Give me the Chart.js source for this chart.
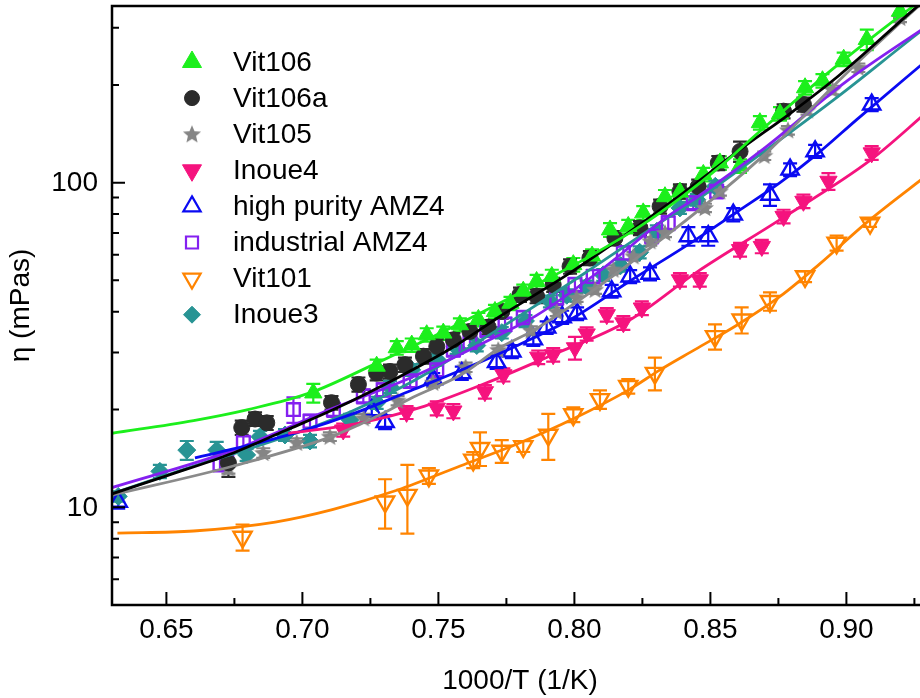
<!DOCTYPE html>
<html>
<head>
<meta charset="utf-8">
<script src="https://cdn.jsdelivr.net/npm/chart.js@4.4.1/dist/chart.umd.min.js"></script>
<style>
  html, body { margin: 0; padding: 0; background: #fff; overflow: hidden; }
  #wrap { width: 920px; height: 698px; overflow: hidden; }
</style>
</head>
<body>
<div id="wrap"><canvas id="viscosity" width="932" height="698"></canvas></div>
<script>
// ============================================================
// DATA
// ============================================================
const seriesLabels = ["Vit106", "Vit106a", "Vit105", "Inoue4", "high purity AMZ4", "industrial AMZ4", "Vit101", "Inoue3"];

// Vit106
const vit106X   = [0.704, 0.7273, 0.7347, 0.7402, 0.7457, 0.7518, 0.7579, 0.7647, 0.7708, 0.7765, 0.7812, 0.7861, 0.7917, 0.7996, 0.8065, 0.8131, 0.8198, 0.8253, 0.8333, 0.8388, 0.8474, 0.8535, 0.8609, 0.8682, 0.8756, 0.8848, 0.8912, 0.8990, 0.9075, 0.9197];
const vit106Y   = [22.5, 27.2, 31.0, 31.6, 34.0, 34.4, 36.5, 37.9, 40.1, 42.5, 46.3, 49.6, 51.4, 55.9, 59.4, 71.5, 73.3, 80.7, 90.5, 93.5, 106, 115, 112.5, 153, 163, 196, 206, 240, 276, 337];
const vit106Err = [1.5, 1.3, 1.5, 1.5, 1.6, 1.6, 1.7, 1.8, 1.9, 2.0, 2.2, 2.4, 2.5, 2.7, 2.9, 3.5, 3.5, 3.9, 4.4, 4.5, 5.1, 5.5, 5.4, 7.3, 7.8, 9.4, 9.9, 11.5, 20, 16];
const vit106FitX = [0.63, 0.66, 0.68, 0.7028, 0.7273, 0.7469, 0.7653, 0.7837, 0.802, 0.8241, 0.84, 0.8535, 0.8682, 0.8829, 0.895, 0.9075, 0.9245, 0.93];
const vit106FitY = [16.9, 18.5, 20.0, 22.5, 27.8, 33.2, 39.6, 47.5, 57.0, 73.3, 91, 112, 144, 184, 224, 272, 349, 376];

// Vit106a
const vit106aX   = [0.6728, 0.6777, 0.6826, 0.6869, 0.7107, 0.7206, 0.7273, 0.7322, 0.7377, 0.7445, 0.7494, 0.7555, 0.7616, 0.7683, 0.7733, 0.78, 0.7861, 0.7922, 0.7984, 0.8057, 0.8149, 0.8241, 0.8315, 0.8388, 0.8455, 0.8529, 0.8609, 0.8769, 0.8842];
const vit106aY   = [13.7, 17.6, 18.7, 18.2, 21.0, 23.9, 25.9, 26.2, 27.5, 29.2, 31.3, 32.8, 34.8, 35.9, 40.1, 45.2, 44.7, 48.5, 55.2, 58.6, 67.5, 72.5, 84.5, 94, 97.2, 115, 124.8, 166, 174];
const vit106aErr = [1.3, 0.9, 0.9, 0.9, 1.0, 1.2, 1.3, 1.3, 1.4, 1.5, 1.6, 1.6, 1.7, 1.8, 2.0, 2.3, 2.2, 2.4, 2.8, 2.9, 3.4, 3.6, 4.2, 4.7, 4.9, 5.8, 9, 8.3, 8.7];
const vit106aFitX = [0.63, 0.65, 0.6746, 0.6935, 0.7114, 0.7359, 0.755, 0.7726, 0.7984, 0.8351, 0.8609, 0.88, 0.8976, 0.9245, 0.93];
const vit106aFitY = [11.0, 12.5, 14.7, 17.2, 20.0, 25.3, 31, 38.7, 52.7, 86.6, 126.4, 165, 215, 340, 372];

// Vit105
const vit105X   = [0.6728, 0.6856, 0.6979, 0.7101, 0.7225, 0.7350, 0.7480, 0.7600, 0.7720, 0.7840, 0.7935, 0.8008, 0.8076, 0.8143, 0.8217, 0.8279, 0.8333, 0.8480, 0.8535, 0.8698, 0.8785, 0.8857, 0.8949, 0.9044, 0.9197];
const vit105Y   = [13.2, 14.7, 15.8, 16.5, 18.8, 21.3, 24.2, 27.0, 30.5, 35.0, 40.0, 44.2, 46.8, 54.0, 59.3, 66.0, 70.0, 83.6, 94.0, 121, 145, 167, 193, 226, 322];
const vit105Err = [0.5, 0.5, 0.5, 0.5, 0.6, 0.7, 0.8, 0.9, 1.0, 1.1, 1.2, 1.3, 1.4, 1.6, 1.8, 2.0, 2.1, 2.5, 2.8, 3.6, 4.4, 5.0, 5.8, 6.8, 9.7];
const vit105FitX = [0.63, 0.6746, 0.7114, 0.7298, 0.7396, 0.758, 0.7726, 0.7861, 0.8351, 0.8719, 0.8976, 0.9258, 0.93];
const vit105FitY = [10.9, 13.4, 16.6, 19.5, 21.6, 25.5, 31.0, 35.5, 70, 126.4, 207.6, 345, 370];

// Inoue4
const inoue4X   = [0.715, 0.7383, 0.7494, 0.7555, 0.7671, 0.7739, 0.7867, 0.7922, 0.8002, 0.8045, 0.8119, 0.8180, 0.8248, 0.8388, 0.8461, 0.8609, 0.8689, 0.8769, 0.8842, 0.8934, 0.9093];
const inoue4Y   = [17.3, 19.6, 20.2, 19.8, 22.7, 25.6, 29.0, 29.5, 31.0, 34.2, 39.2, 37.0, 41.1, 50.2, 50.2, 62.2, 63.6, 78.7, 87.6, 101, 123.5];
const inoue4Err = [0.8, 0.9, 1.0, 1.0, 1.1, 1.2, 1.4, 1.4, 2.5, 1.6, 1.9, 1.8, 2.0, 2.4, 2.4, 3, 3, 3.8, 4.2, 6, 6];
const inoue4FitX = [0.6948, 0.72, 0.745, 0.77, 0.79, 0.82, 0.845, 0.8756, 0.9087, 0.93];
const inoue4FitY = [16.9, 18.1, 20.5, 24.6, 29.0, 37.6, 53, 76.9, 117, 166];

// high purity AMZ4
const amz4hpX   = [0.6323, 0.7255, 0.7304, 0.7481, 0.7586, 0.7714, 0.777, 0.7849, 0.7898, 0.7955, 0.8010, 0.8137, 0.8205, 0.8278, 0.8419, 0.8492, 0.8584, 0.8719, 0.8793, 0.8885, 0.9093];
const amz4hpY   = [10.4, 19.9, 18.3, 24.8, 25.9, 28.0, 30.2, 32.9, 35.8, 38.5, 39.5, 46.3, 51.4, 52.4, 68.4, 68.4, 79.7, 91.8, 109.7, 124.9, 174];
const amz4hpErr = [0.5, 0.9, 0.9, 1.1, 1.2, 1.3, 1.4, 1.5, 1.6, 1.8, 1.8, 2.1, 2.4, 2.4, 4.5, 4.5, 3.7, 7, 5, 5.8, 8];
const amz4hpFitX = [0.6605, 0.68, 0.70, 0.72, 0.74, 0.76, 0.78, 0.80, 0.82, 0.8425, 0.86, 0.8756, 0.89, 0.9038, 0.93];
const amz4hpFitY = [14.2, 15.5, 17.2, 19.6, 22.9, 26.8, 31.8, 38.5, 49.5, 65, 81.5, 100, 124, 156.4, 240];

// industrial AMZ4
const amz4indX   = [0.6697, 0.6722, 0.6783, 0.6967, 0.7028, 0.7114, 0.7224, 0.7297, 0.7396, 0.7494, 0.7555, 0.7616, 0.7678, 0.7745, 0.7812, 0.7935, 0.8002, 0.8069, 0.8180, 0.8284, 0.8345, 0.8437, 0.8523];
const amz4indY   = [13.6, 14.0, 15.8, 20.0, 18.4, 20.0, 22.0, 23.0, 24.5, 26.5, 30.6, 32.2, 35.2, 36.6, 38.4, 44.2, 48.5, 51.4, 60.7, 68.4, 75.1, 86.6, 94.0];
const amz4indErr = [0.7, 0.7, 0.8, 1.8, 0.9, 1.0, 1.1, 1.1, 1.2, 1.3, 1.5, 1.6, 1.7, 1.8, 1.9, 2.2, 2.4, 2.5, 3, 3.4, 3.7, 4.3, 4.6];
const amz4indFitX = [0.63, 0.6746, 0.7114, 0.7396, 0.7726, 0.7861, 0.81, 0.8351, 0.8449, 0.87, 0.90, 0.93];
const amz4indFitY = [11.5, 15.0, 20.2, 25.0, 34.0, 39.0, 54, 79.5, 90, 128, 205, 305];

// Vit101
const vit101X   = [0.678, 0.7304, 0.7386, 0.7465, 0.7628, 0.7653, 0.7733, 0.7812, 0.7904, 0.7996, 0.8094, 0.8198, 0.8296, 0.8517, 0.8615, 0.8719, 0.8848, 0.8964, 0.9087];
const vit101Y   = [8.1, 10.4, 10.9, 12.5, 14.0, 15.2, 14.9, 15.4, 16.7, 19.3, 21.5, 23.6, 25.9, 33.6, 37.8, 43.1, 51.4, 65.2, 75.1];
const vit101Err = [0.75, 1.8, 2.6, 0.7, 0.8, 1.8, 1.2, 0.6, 2.7, 1.0, 1.4, 1.2, 3.0, 3.0, 3.5, 2.8, 2.0, 3.5, 2.0];
const vit101FitX = [0.632, 0.66, 0.69, 0.711, 0.735, 0.758, 0.78, 0.80, 0.82, 0.8315, 0.8443, 0.86, 0.8756, 0.89, 0.9087, 0.93];
const vit101FitY = [8.33, 8.45, 9.0, 9.83, 11.3, 13.4, 15.8, 18.8, 23.0, 26.5, 30.6, 36.5, 44.6, 56, 76.9, 106];

// Inoue3
const inoue3X   = [0.6323, 0.6476, 0.6575, 0.6685, 0.6795, 0.6844, 0.6936, 0.7028, 0.7175, 0.7273, 0.7322, 0.7402, 0.7495, 0.7567, 0.7641, 0.7733, 0.782, 0.791, 0.7972, 0.8045, 0.8106, 0.8170, 0.8240, 0.8303, 0.8388, 0.845, 0.8518];
const inoue3Y   = [10.8, 12.9, 15.0, 15.0, 14.5, 16.5, 16.7, 16.0, 18.6, 21.0, 23.5, 26.5, 28.5, 31.0, 31.5, 34.5, 37.5, 43.1, 45.0, 47.9, 52.0, 55.5, 61.0, 70.8, 83.6, 88.6, 97.4];
const inoue3Err = [0.4, 0.6, 1.0, 0.9, 0.6, 0.7, 0.7, 0.7, 0.8, 0.9, 1.0, 1.1, 1.2, 1.3, 1.3, 1.4, 1.6, 1.8, 1.9, 2.0, 2.2, 2.3, 2.6, 3.0, 3.5, 3.7, 4.1];
const inoue3FitX = [0.63, 0.666, 0.6746, 0.7114, 0.7396, 0.7625, 0.7861, 0.81, 0.8351, 0.8437, 0.8707, 0.8976, 0.9263, 0.93];
const inoue3FitY = [11.0, 13.9, 14.6, 18.7, 24.2, 31.5, 42.0, 57, 78.7, 87, 126.4, 186, 288, 304];

// Axis ticks
const xMajorTicks = [0.65, 0.70, 0.75, 0.80, 0.85, 0.90];
const xMinorTicks = [0.675, 0.725, 0.775, 0.825, 0.875, 0.925];
const yMajorTicks = [10, 100];
const yMinorTicks = [5, 6, 7, 8, 9, 20, 30, 40, 50, 60, 70, 80, 90, 200, 300];

// ============================================================
// STYLE
// ============================================================
const FONT = "'Liberation Sans', Arial, Helvetica, sans-serif";
const FONT_SIZE = 28;

/** Filled five-point star drawn on a small canvas, used as a point style */
function makeStar(color, size) {
    const c = document.createElement("canvas");
    c.width = c.height = size;
    const g = c.getContext("2d");
    const R = size / 2 - 0.5, r = R * 0.45, cx = size / 2, cy = size / 2 + 0.5;
    g.fillStyle = color;
    g.beginPath();
    for (let i = 0; i < 10; i++) {
        const rad = (i % 2 ? r : R);
        const a = -Math.PI / 2 + i * Math.PI / 5;
        g.lineTo(cx + rad * Math.cos(a), cy + rad * Math.sin(a));
    }
    g.closePath();
    g.fill();
    return c;
}

const series = [
    { x: vit106X,   y: vit106Y,   err: vit106Err,   fx: vit106FitX,   fy: vit106FitY,   color: "#1cef1c", line: "#1cef1c", style: "triangle", rot: 0,   r: 10,  lr: 11,  hollow: false },
    { x: vit106aX,  y: vit106aY,  err: vit106aErr,  fx: vit106aFitX,  fy: vit106aFitY,  color: "#2b2b2b", line: "#000000", style: "circle",   rot: 0,   r: 8,   lr: 7.5, hollow: false },
    { x: vit105X,   y: vit105Y,   err: vit105Err,   fx: vit105FitX,   fy: vit105FitY,   color: "#858585", line: "#8a8a8a", style: makeStar("#858585", 20), legendStyle: makeStar("#858585", 20), rot: 0, r: 10, lr: 10, hollow: false },
    { x: inoue4X,   y: inoue4Y,   err: inoue4Err,   fx: inoue4FitX,   fy: inoue4FitY,   color: "#f5137e", line: "#f5137e", style: "triangle", rot: 180, r: 10,  lr: 11,  hollow: false },
    { x: amz4hpX,   y: amz4hpY,   err: amz4hpErr,   fx: amz4hpFitX,   fy: amz4hpFitY,   color: "#0a0af2", line: "#0a0af2", style: "triangle", rot: 0,   r: 10,  lr: 10,  hollow: true },
    { x: amz4indX,  y: amz4indY,  err: amz4indErr,  fx: amz4indFitX,  fy: amz4indFitY,  color: "#8420f0", line: "#8420f0", style: "rect",     rot: 0,   r: 9,   lr: 8.5, hollow: true },
    { x: vit101X,   y: vit101Y,   err: vit101Err,   fx: vit101FitX,   fy: vit101FitY,   color: "#ff8400", line: "#ff8400", style: "triangle", rot: 180, r: 10.5, lr: 10, hollow: true },
    { x: inoue3X,   y: inoue3Y,   err: inoue3Err,   fx: inoue3FitX,   fy: inoue3FitY,   color: "#289494", line: "#289494", style: "rectRot",  rot: 0,   r: 9,   lr: 8.5, hollow: false }
];

// ============================================================
// DATASETS
// ============================================================
const datasets = [];
series.forEach((s, i) => {
    datasets.push({
        type: "line",
        label: seriesLabels[i] + " fit",
        data: s.fx.map((v, k) => ({ x: v, y: s.fy[k] })),
        borderColor: s.line,
        borderWidth: 2.8,
        pointRadius: 0,
        cubicInterpolationMode: "monotone",
        fill: false,
        order: 0
    });
});
series.forEach((s, i) => {
    datasets.push({
        type: "scatter",
        label: seriesLabels[i],
        data: s.x.map((v, k) => ({ x: v, y: s.y[k] })),
        errors: s.err,
        barColor: s.color,
        pointStyle: s.style,
        pointRotation: s.rot,
        pointRadius: s.r,
        pointHoverRadius: s.r,
        pointBackgroundColor: s.hollow ? "rgba(0,0,0,0)" : s.color,
        pointBorderColor: s.color,
        pointBorderWidth: s.hollow ? 2.4 : 1,
        order: 1
    });
});

// ============================================================
// PLUGINS
// ============================================================
// Vertical error bars with caps, under the markers
const errorBars = {
    id: "errorBars",
    beforeDatasetsDraw(chart) {
        const { ctx, chartArea: a, scales: { x, y } } = chart;
        ctx.save();
        ctx.beginPath();
        ctx.rect(a.left, a.top, a.right - a.left, a.bottom - a.top);
        ctx.clip();
        ctx.lineWidth = 2.2;
        chart.data.datasets.forEach(ds => {
            if (!ds.errors) return;
            ctx.strokeStyle = ds.barColor;
            ctx.beginPath();
            ds.data.forEach((p, k) => {
                const e = ds.errors[k];
                const px = x.getPixelForValue(p.x);
                const top = y.getPixelForValue(p.y + e);
                const bot = y.getPixelForValue(Math.max(p.y - e, 0.1));
                ctx.moveTo(px, top); ctx.lineTo(px, bot);
                ctx.moveTo(px - 7, top); ctx.lineTo(px + 7, top);
                ctx.moveTo(px - 7, bot); ctx.lineTo(px + 7, bot);
            });
            ctx.stroke();
        });
        ctx.restore();
    }
};

// Axis lines, top frame line, inward tick marks and y labels
const frame = {
    id: "frame",
    afterDraw(chart) {
        const { ctx, chartArea: a, scales: { x, y } } = chart;
        ctx.save();
        ctx.strokeStyle = "#000";
        ctx.lineWidth = 2.5;
        ctx.beginPath();
        ctx.moveTo(a.left - 1.25, a.top); ctx.lineTo(a.right + 5, a.top);
        ctx.moveTo(a.left, a.top); ctx.lineTo(a.left, a.bottom + 1.25);
        ctx.moveTo(a.left - 1.25, a.bottom); ctx.lineTo(a.right + 5, a.bottom);
        ctx.stroke();

        ctx.lineWidth = 2;
        ctx.beginPath();
        xMajorTicks.forEach(v => { const p = x.getPixelForValue(v); ctx.moveTo(p, a.bottom); ctx.lineTo(p, a.bottom - 13); });
        xMinorTicks.forEach(v => { const p = x.getPixelForValue(v); ctx.moveTo(p, a.bottom); ctx.lineTo(p, a.bottom - 7); });
        yMajorTicks.forEach(v => { const p = y.getPixelForValue(v); ctx.moveTo(a.left, p); ctx.lineTo(a.left + 13, p); });
        yMinorTicks.forEach(v => { const p = y.getPixelForValue(v); ctx.moveTo(a.left, p); ctx.lineTo(a.left + 7, p); });
        ctx.stroke();

        ctx.fillStyle = "#000";
        ctx.font = FONT_SIZE + "px " + FONT;
        ctx.textAlign = "right";
        ctx.textBaseline = "middle";
        yMajorTicks.forEach(v => ctx.fillText(String(v), a.left - 14, y.getPixelForValue(v) + 1));
        ctx.restore();
    }
};

// Legend inside the plot, top left
const insideLegend = {
    id: "insideLegend",
    afterDraw(chart) {
        const { ctx } = chart;
        const drawPoint = Chart.helpers && Chart.helpers.drawPoint;
        ctx.save();
        ctx.font = FONT_SIZE + "px " + FONT;
        ctx.textBaseline = "middle";
        ctx.textAlign = "left";
        series.forEach((s, i) => {
            const cy = 62 + i * 36.1;
            const cx = 192;
            ctx.fillStyle = s.hollow ? "rgba(0,0,0,0)" : s.color;
            ctx.strokeStyle = s.color;
            ctx.lineWidth = s.hollow ? 2.2 : 1;
            if (drawPoint) {
                drawPoint(ctx, {
                    pointStyle: s.legendStyle || s.style,
                    rotation: s.rot,
                    radius: s.lr,
                    borderWidth: s.hollow ? 2.2 : 1
                }, cx, cy);
            }
            ctx.fillStyle = "#000";
            ctx.fillText(seriesLabels[i], 233, cy + 1);
        });
        ctx.restore();
    }
};

// ============================================================
// CHART
// ============================================================
new Chart(document.getElementById("viscosity"), {
    type: "scatter",
    data: { datasets },
    options: {
        responsive: false,
        animation: false,
        devicePixelRatio: 1,
        events: [],
        layout: { autoPadding: false, padding: { top: 6, right: 4, left: 0, bottom: 0 } },
        plugins: { legend: { display: false }, tooltip: { enabled: false } },
        scales: {
            x: {
                type: "linear",
                min: 0.63,
                max: 0.93,
                grid: { display: false, drawTicks: false },
                border: { display: false },
                afterBuildTicks: s => { s.ticks = xMajorTicks.map(v => ({ value: v })); },
                afterFit: s => { s.height = 93; },
                ticks: {
                    autoSkip: false,
                    maxRotation: 0,
                    padding: 8,
                    color: "#000",
                    font: { family: FONT, size: FONT_SIZE },
                    callback: v => Number(v).toFixed(2)
                },
                title: {
                    display: true,
                    text: "1000/T (1/K)",
                    color: "#000",
                    font: { family: FONT, size: FONT_SIZE },
                    padding: { top: 4, bottom: 0 }
                }
            },
            y: {
                type: "logarithmic",
                min: 5,
                max: 350,
                grid: { display: false, drawTicks: false },
                border: { display: false },
                afterBuildTicks: s => { s.ticks = yMajorTicks.map(v => ({ value: v })); },
                afterFit: s => { s.width = 112; },
                ticks: { display: false },
                title: {
                    display: true,
                    text: "η (mPas)",
                    color: "#000",
                    font: { family: FONT, size: FONT_SIZE },
                    padding: { top: 4, bottom: 0 }
                }
            }
        }
    },
    plugins: [errorBars, frame, insideLegend]
});
</script>
</body>
</html>
